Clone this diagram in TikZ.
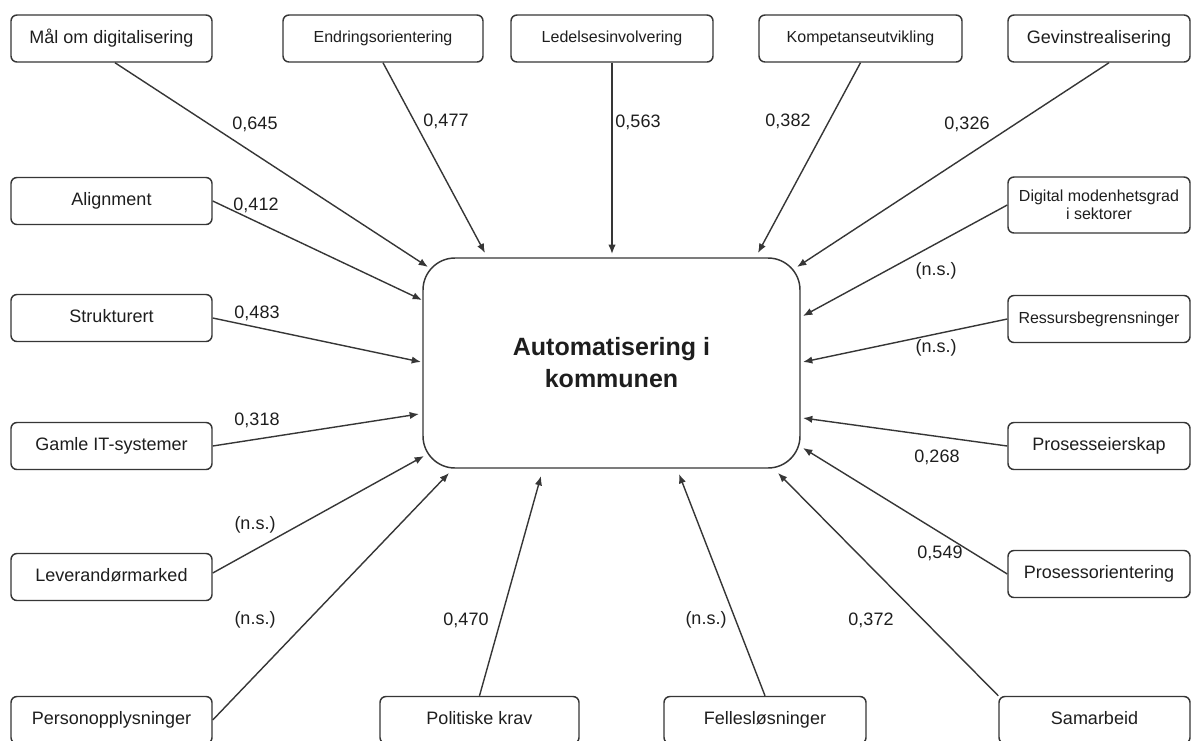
\documentclass[tikz,border=0pt]{standalone}
\usepackage{fontspec}
\setmainfont{Liberation Sans}
\usetikzlibrary{arrows.meta}
\definecolor{linecol}{HTML}{363636}
\definecolor{textcol}{HTML}{1E1E1E}
\begin{document}
\begin{tikzpicture}[x=0.75pt,y=-0.75pt,
  box/.style={draw=linecol, line width=1.1pt, rounded corners=4.5pt, fill=white,
    text=textcol, font=\fontsize{13.5}{16}\selectfont, minimum height=35.25pt,
    inner sep=0pt, align=center, text height=9.5pt, text depth=2.5pt},
  smallbox/.style={box, font=\fontsize{12}{14}\selectfont, text height=8.5pt, text depth=2.2pt},
  mainbox/.style={draw=linecol, line width=1.1pt, rounded corners=24pt, fill=white,
    text=textcol, font=\fontsize{18.75}{24}\selectfont\bfseries, align=center,
    minimum width=282.75pt, minimum height=157.5pt, inner sep=0pt},
  arr/.style={draw=linecol, line width=1.05pt, -{Latex[length=7pt,width=5.5pt]}},
  lbl/.style={text=textcol, font=\fontsize{13.5}{16}\selectfont, inner sep=0pt}]
\useasboundingbox (0,0) rectangle (1200,740);
\fill[white] (0,0) rectangle (1200,740);

% centre
\node[mainbox] (c) at (611.5,363) {Automatisering i\\kommunen};

% top row
\node[box, minimum width=150.75pt] (mal) at (111.5,38.5) {Mål om digitalisering};
\node[smallbox, minimum width=150pt] (endr) at (383,38.5) {Endringsorientering};
\node[smallbox, minimum width=151.5pt] (led) at (612,38.5) {Ledelsesinvolvering};
\node[smallbox, minimum width=152.25pt] (komp) at (860.5,38.5) {Kompetanseutvikling};
\node[box, minimum width=136.5pt] (gev) at (1099,38.5) {Gevinstrealisering};

% left column
\node[box, minimum width=150.75pt] (align) at (111.5,201) {Alignment};
\node[box, minimum width=150.75pt] (strukt) at (111.5,318) {Strukturert};
\node[box, minimum width=150.75pt] (gamle) at (111.5,446) {Gamle IT-systemer};
\node[box, minimum width=150.75pt] (lev) at (111.5,577) {Leverandørmarked};
\node[box, minimum width=150.75pt] (pers) at (111.5,720) {Personopplysninger};

% bottom row
\node[box, minimum width=149.25pt] (pol) at (479.5,720) {Politiske krav};
\node[box, minimum width=151.5pt] (fell) at (765,720) {Fellesløsninger};
\node[box, minimum width=143.25pt] (sam) at (1094.5,720) {Samarbeid};

% right column
\node[smallbox, minimum width=136.5pt, minimum height=42pt, text height=, text depth=, font=\fontsize{12}{13.5}\selectfont] (dig) at (1099,205) {Digital modenhetsgrad\\i sektorer};
\node[smallbox, minimum width=136.5pt] (ress) at (1099,319) {Ressursbegrensninger};
\node[box, minimum width=136.5pt] (peier) at (1099,446) {Prosesseierskap};
\node[box, minimum width=136.5pt] (por) at (1099,574) {Prosessorientering};

% arrow tips on the centre box
\coordinate (tmal) at (428,267);
\coordinate (tendr) at (485,253);
\coordinate (tled) at (612,254);
\coordinate (tkomp) at (758,253);
\coordinate (tgev) at (797,267);
\coordinate (talign) at (422,300);
\coordinate (tstrukt) at (421,362);
\coordinate (tgamle) at (419,414);
\coordinate (tlev) at (424,456);
\coordinate (tpers) at (449,473);
\coordinate (tpol) at (541,476);
\coordinate (tfell) at (679,474);
\coordinate (tsam) at (778,473);
\coordinate (tpor) at (803,448);
\coordinate (tpeier) at (803,418);
\coordinate (tress) at (803,362);
\coordinate (tdig) at (803,316);

\draw[arr] ([xshift=2.6pt]mal.south) -- (tmal);
\draw[arr] (endr.south) -- (tendr);
\draw[arr] (led.south) -- (tled);
\draw[arr] (komp.south) -- (tkomp);
\draw[arr] ([xshift=7.5pt]gev.south) -- (tgev);
\draw[arr] (align.east) -- (talign);
\draw[arr] (strukt.east) -- (tstrukt);
\draw[arr] (gamle.east) -- (tgamle);
\draw[arr] ([yshift=3pt]lev.east) -- (tlev);
\draw[arr] (pers.east) -- (tpers);
\draw[arr] (pol.north) -- (tpol);
\draw[arr] (fell.north) -- (tfell);
\draw[arr] (sam.north west) -- (tsam);
\draw[arr] (por.west) -- (tpor);
\draw[arr] (peier.west) -- (tpeier);
\draw[arr] (ress.west) -- (tress);
\draw[arr] (dig.west) -- (tdig);

% labels
\node[lbl] (l1) at (255,124) {0,645};
\node[lbl] (l2) at (446,121) {0,477};
\node[lbl] (l3) at (638,122) {0,563};
\node[lbl] (l4) at (788,121) {0,382};
\node[lbl] (l5) at (967,124) {0,326};
\node[lbl] (l6) at (256,205) {0,412};
\node[lbl] (l7) at (936,271) {(n.s.)};
\node[lbl] (l8) at (257,313) {0,483};
\node[lbl] (l9) at (936,348) {(n.s.)};
\node[lbl] (l10) at (257,420) {0,318};
\node[lbl] (l11) at (937,457) {0,268};
\node[lbl] (l12) at (255,525) {(n.s.)};
\node[lbl] (l13) at (940,553) {0,549};
\node[lbl] (l14) at (255,620) {(n.s.)};
\node[lbl] (l15) at (466,620) {0,470};
\node[lbl] (l16) at (706,620) {(n.s.)};
\node[lbl] (l17) at (871,620) {0,372};
\end{tikzpicture}
\end{document}
